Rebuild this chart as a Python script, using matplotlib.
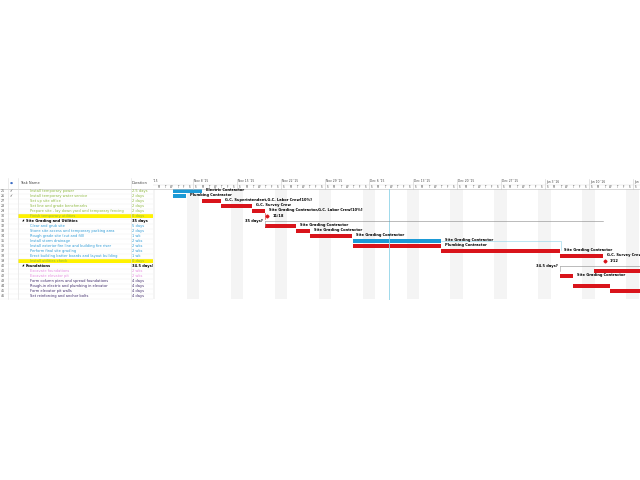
import matplotlib
matplotlib.use("Agg")
import matplotlib.pyplot as plt
import matplotlib.patches as mp

ids = list(range(25, 47))
names = ["Install temporary power", "Install temporary water service", "Set up site office",
         "Set line and grade benchmarks", "Prepare site - lay down yard and temporary fencing",
         "Finish temporary utilities", "Site Grading and Utilities", "Clear and grub site",
         "Stone site access and temporary parking area", "Rough grade site (cut and fill)",
         "Install storm drainage", "Install exterior fire line and building fire riser",
         "Perform final site grading", "Erect building batter boards and layout building",
         "Install utilities check", "Foundations", "Excavate foundations", "Excavate elevator pit",
         "Form column piers and spread foundations", "Rough-in electric and plumbing in elevator",
         "Form elevator pit walls", "Set reinforcing and anchor bolts"]
durations = ["2.5 days", "2 days", "2 days", "2 days", "2 days", "0 days", "35 days", "5 days",
             "2 days", "1 wk", "2 wks", "2 wks", "2 wks", "1 wk", "0 days", "34.5 days?",
             "2 wks", "2 wks", "4 days", "4 days", "4 days", "4 days"]
kinds = ["g", "g", "g", "g", "g", "ym", "s", "b", "b", "b", "b", "b", "b", "b", "ym", "s",
         "p", "p", "d", "d", "d", "d"]
checks = {25: True, 26: True}

# gantt bars: (row, start day, end day, color, label) ; day 0 = Sun Nov 8 2015
bar_rows = [25, 26, 27, 28, 29, 32, 33, 34, 35, 36, 37, 38, 41, 42, 44, 45]
bar_start = [-3.2, -3.2, 1.4, 4.5, 9.4, 11.5, 16.4, 18.6, 25.5, 25.5, 39.5, 58.4, 63.8, 58.4, 60.5, 66.4]
bar_end = [1.4, -1.1, 4.5, 9.4, 11.5, 16.4, 18.6, 25.3, 39.5, 39.5, 58.4, 65.3, 75.0, 60.5, 66.4, 75.0]
bar_color = ["b", "b", "r", "r", "r", "r", "r", "r", "b", "r", "r", "r", "r", "r", "r", "r"]
bar_label = ["Electric Contractor", "Plumbing Contractor", "G.C. Superintendent,G.C. Labor Crew[10%]",
             "G.C. Survey Crew", "Site Grading Contractor,G.C. Labor Crew[10%]", "Site Grading Contractor",
             "Site Grading Contractor", "Site Grading Contractor", "Site Grading Contractor",
             "Plumbing Contractor", "Site Grading Contractor", "G.C. Survey Crew", "",
             "Site Grading Contractor", "", "Plumbing Contractor"]
ms_rows = [30, 39]
ms_day = [11.8, 65.6]
ms_label = ["11/18", "1/12"]
sum_rows = [31, 40]
sum_start = [11.5, 58.4]
sum_end = [65.3, 75.0]
sum_label = ["35 days?", "34.5 days?"]
week_labels = ["1 '15", "Nov 8 '15", "Nov 15 '15", "Nov 22 '15", "Nov 29 '15", "Dec 6 '15",
               "Dec 13 '15", "Dec 20 '15", "Dec 27 '15", "Jan 3 '16", "Jan 10 '16", "Jan 17"]
week_start = [-7, 0, 7, 14, 21, 28, 35, 42, 49, 56, 63, 70]

RED, BLUE = "#D9141B", "#1C9AD6"
tcol = {"g": "#8DB83F", "ym": "#8DB83F", "b": "#2E9BD6", "p": "#E48BDF", "d": "#3E2A6A", "s": "#000000"}

fig = plt.figure(figsize=(6.4, 4.8), dpi=100)
fs = 2.6
Y0, Y1 = 22.4, 46.8
top = 1 - 178 / 480
bot = 1 - 300 / 480
tab = fig.add_axes([0, bot, 153 / 640, top - bot])
tab.set_xlim(0, 153); tab.set_ylim(Y1, Y0); tab.axis("off")
g = fig.add_axes([153 / 640, bot, 1 - 153 / 640, top - bot])
g.set_xlim(-6.37, 71.18); g.set_ylim(Y1, Y0); g.axis("off")

# table
tab.axhline(24.5, color="#BBBBBB", lw=0.4)
for xv in [8, 18, 131, 153]:
    tab.plot([xv, xv], [Y0, 46.5], color="#DDDDDD", lw=0.4)
tab.text(11, 23.4, "\u25CF", color="#3A6BC4", fontsize=2.5, ha="center", va="center")
tab.text(20, 23.4, "Task Name", fontsize=fs, va="center", color="#444444")
tab.text(132, 23.4, "Duration", fontsize=fs, va="center", color="#444444")
for i, r in enumerate(ids):
    k = kinds[i]
    tab.plot([0, 153], [r + 0.5, r + 0.5], color="#EEEEEE", lw=0.3)
    if k == "ym":
        tab.add_patch(mp.Rectangle((18, r - 0.45), 135, 0.9, color="#FFF200", lw=0))
    tab.text(1, r, str(r), fontsize=fs - 0.3, va="center", color="#555555")
    if r in checks:
        tab.text(9, r, "\u2713", fontsize=fs, va="center", color="#333333")
    if k == "s":
        tab.text(22, r, "\u25E2", fontsize=2, va="center")
        tab.text(26, r, names[i], fontsize=fs, va="center", fontweight="bold")
        tab.text(132, r, durations[i], fontsize=fs, va="center", fontweight="bold")
    else:
        tab.text(30, r, names[i], fontsize=fs, va="center", color=tcol[k])
        tab.text(132, r, durations[i], fontsize=fs, va="center", color=tcol[k])

# gantt header and weekend shading
letters = ["S", "M", "T", "W", "T", "F", "S"]
for ws, wl in zip(week_start, week_labels):
    g.add_patch(mp.Rectangle((ws - 1, 24.5), 2, 22.0, color="#F4F4F4", lw=0))
    g.text(ws + 0.2, 23.1, wl, fontsize=fs - 0.4, va="center", color="#444444", clip_on=True)
    g.plot([ws, ws], [Y0 + 0.1, 24.5], color="#CCCCCC", lw=0.4)
    for j in range(7):
        g.text(ws + j + 0.5, 24.15, letters[j], fontsize=fs - 0.8, ha="center", va="center",
               color="#444444", clip_on=True)
g.axhline(24.5, color="#BBBBBB", lw=0.4)
g.axhline(23.7, color="#DDDDDD", lw=0.3)
g.axvline(31.2, ymin=0, ymax=(Y1 - 24.5) / (Y1 - Y0), color="#8FD3E8", lw=0.6)

# summaries
for r, s, e, lb in zip(sum_rows, sum_start, sum_end, sum_label):
    g.plot([s, e], [r, r], color="#888888", lw=0.4)
    g.text(s - 0.3, r, lb, fontsize=fs, ha="right", va="center", fontweight="bold")
    g.plot([s, s], [r, r + 1], color="#999999", lw=0.4)
# dependency lines
g.plot([39.5, 58.6, 58.6], [35, 35, 36.7], color="#8FD3E8", lw=0.4)
g.plot([11.5, 11.5], [29.4, 30.6], color=RED, lw=0.4)
# bars
for r, s, e, c, lb in zip(bar_rows, bar_start, bar_end, bar_color, bar_label):
    g.barh(r, e - s, left=s, height=0.7, color=RED if c == "r" else BLUE, lw=0)
    if lb:
        g.text(e + 0.6, r - 0.2, lb, fontsize=fs, va="center", fontweight="bold", clip_on=True)
for r, d, lb in zip(ms_rows, ms_day, ms_label):
    g.plot(d, r, marker="D", color=RED, ms=1.5)
    g.text(d + 0.8, r, lb, fontsize=fs, va="center", fontweight="bold", clip_on=True)

fig.savefig("out.png", dpi=100)
